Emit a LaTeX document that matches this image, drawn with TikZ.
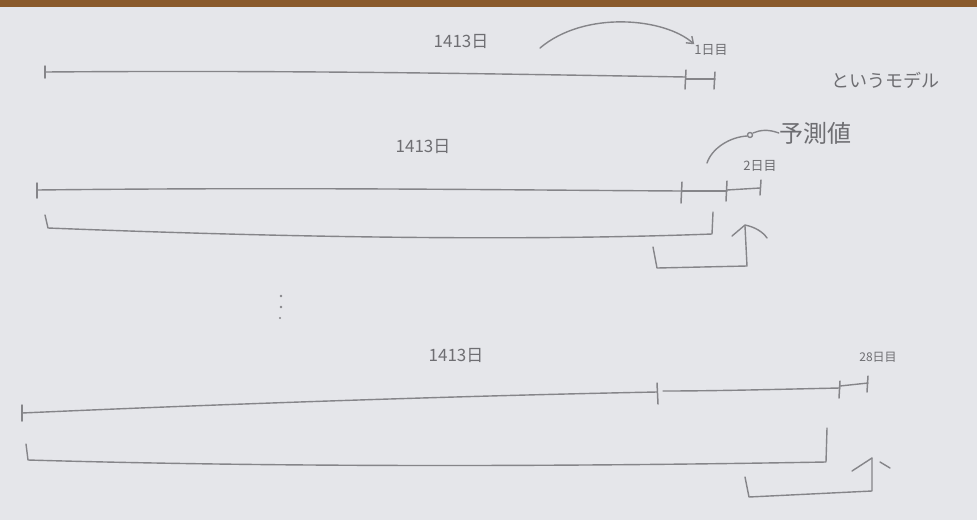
\documentclass[tikz,border=0pt]{standalone}
\usepackage{fontspec}
\newfontfamily\jp{Noto Sans CJK JP}
\usetikzlibrary{arrows.meta, calc}
\definecolor{paper}{HTML}{E5E6EA}
\definecolor{wood}{HTML}{8A5A2C}
\definecolor{pencil}{HTML}{858589}
\definecolor{lead}{HTML}{6E6E72}

\begin{document}
\begin{tikzpicture}[
    x = 1pt, y = -1pt,
    line/.style = {draw = pencil, line width = 1.4pt,
                   line cap = round, line join = round},
    tick/.style = {draw = pencil, line width = 1.5pt, line cap = round},
    lbl/.style  = {text = lead, inner sep = 0pt,
                   font = \jp\fontsize{17}{17}\selectfont},
    day/.style  = {text = lead, inner sep = 0pt,
                   font = \jp\fontsize{13}{13}\selectfont},
    note/.style = {text = lead, inner sep = 0pt,
                   font = \jp\fontsize{18}{18}\selectfont},
    arr/.style  = {line, -{Straight Barb[length=6pt, width=9pt]}},
  ]
    %% ── Paper ────────────────────────────────────────────────────
    \useasboundingbox (0,0) rectangle (977,520);
    \fill[paper] (0,0) rectangle (977,520);
    \fill[wood]  (0,0) rectangle (977,7);

    %% ── Row 1: one step ahead ────────────────────────────────────
    \coordinate (A1) at (45,72);
    \coordinate (B1) at (686,77);
    \coordinate (C1) at (715,79);
    \draw[line] (A1) .. controls (300,70) and (500,74) .. (B1);
    \draw[line] ($(B1)+(0,2)$) -- (C1);
    \draw[tick] ($(A1)+(0,-6)$) -- ($(A1)+(0,6)$);
    \draw[tick] ($(B1)+(0,-7)$) -- ($(B1)+(-1,12)$);
    \draw[tick] ($(C1)+(0,-7)$) -- ($(C1)+(-1,10)$);

    \node[lbl] (L1) at (461,42) {1413日};
    \node[day] (D1) at (711,50) {1日目};
    \node[note] (M1) at (885,80) {というモデル};
    \coordinate (S1) at (540,48);
    \draw[arr] (S1) .. controls (585,10) and (665,18) .. (D1.north west);

    %% ── Row 2: two steps ahead ───────────────────────────────────
    \coordinate (A2) at (37,190);
    \coordinate (B2) at (682,191);
    \coordinate (C2) at (727,191);
    \coordinate (E2) at (760,188);
    \draw[line] (A2) .. controls (300,187) and (500,190) .. (B2);
    \draw[line] (B2) -- (C2);
    \draw[line] ($(C2)+(0,-1)$) -- (E2);
    \draw[tick] ($(A2)+(0,-7)$) -- ($(A2)+(0,8)$);
    \draw[tick] ($(B2)+(0,-9)$) -- ($(B2)+(-1,12)$);
    \draw[tick] ($(C2)+(0,-10)$) -- ($(C2)+(-1,10)$);
    \draw[tick] ($(E2)+(1,-8)$) -- ($(E2)+(0,7)$);

    \node[lbl] (L2) at (423,147) {1413日};
    \node[day] (D2) at (760,166) {2日目};
    \node[note, font = \jp\fontsize{24}{24}\selectfont] (P2) at (815,133) {予測値};
    \coordinate (Q2) at (707,163);
    \draw[line] (Q2) .. controls (712,148) and (730,137) .. (747,136);
    \draw[line] (750,135) circle (2.5);
    \draw[line] (753,133) .. controls (760,130) and (768,129) .. (P2.west);

    %% ── Row 2: brackets ──────────────────────────────────────────
    \draw[line] (45,215) -- (48,228) .. controls (250,236) and (500,242)
                .. (712,234) -- (713,212);
    \draw[line] (653,247) -- (657,268) -- (747,266) -- (745,226);
    \draw[line] (732,236) -- (745,225) .. controls (755,227) and (763,232) .. (767,238);

    %% ── Ellipsis ─────────────────────────────────────────────────
    \fill[pencil] (281,296) circle (1.4);
    \fill[pencil] (281,307) circle (1.4);
    \fill[pencil] (280,318) circle (1.2);

    %% ── Row 3: last step ─────────────────────────────────────────
    \coordinate (A3) at (22,413);
    \coordinate (B3) at (657,392);
    \coordinate (C3) at (840,388);
    \coordinate (E3) at (868,383);
    \draw[line] (A3) .. controls (200,405) and (450,396) .. (B3);
    \draw[line] ($(B3)+(6,-1)$) .. controls (720,391) and (790,389) .. (C3);
    \draw[line] ($(C3)+(0,-2)$) -- (E3);
    \draw[tick] ($(A3)+(0,-8)$) -- ($(A3)+(0,8)$);
    \draw[tick] ($(B3)+(0,-9)$) -- ($(B3)+(1,12)$);
    \draw[tick] ($(C3)+(0,-7)$) -- ($(C3)+(-1,10)$);
    \draw[tick] ($(E3)+(0,-7)$) -- ($(E3)+(-1,9)$);

    \node[lbl] (L3) at (456,356) {1413日};
    \node[day, font = \jp\fontsize{12}{12}\selectfont] (D3) at (878,357) {28日目};

    %% ── Row 3: brackets ──────────────────────────────────────────
    \draw[line] (26,444) -- (28,460) .. controls (300,468) and (600,466)
                .. (826,462) -- (827,428);
    \draw[line] (745,477) -- (749,497) -- (872,491) -- (872,458);
    \draw[line] (852,471) -- (872,458);
    \draw[line] (880,462) -- (890,468);
  \end{tikzpicture}
\end{document}
